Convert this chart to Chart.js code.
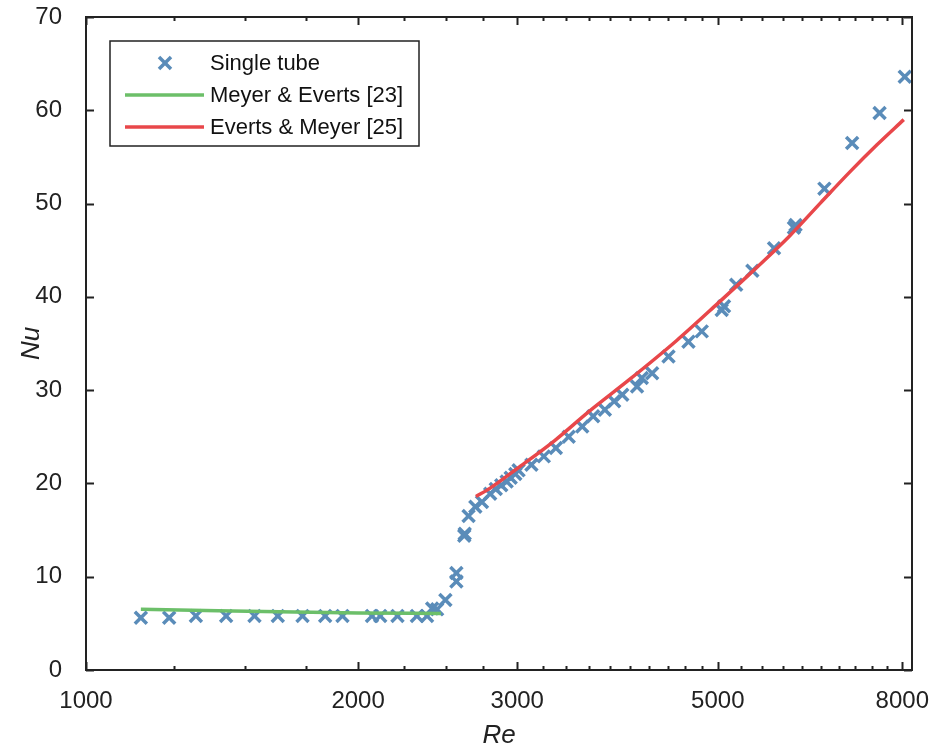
<!DOCTYPE html>
<html>
<head>
<meta charset="utf-8">
<title>Nu vs Re</title>
<script src="https://cdn.jsdelivr.net/npm/chart.js@4.4.1/dist/chart.umd.min.js"></script>
<style>
  html, body { margin: 0; padding: 0; background: #ffffff; }
  #wrap { width: 931px; height: 751px; position: relative; }
</style>
</head>
<body>
<div id="wrap"><canvas id="nuChart" width="931" height="751"></canvas></div>
<script>
// measured points, single tube
const reSingle = [1150, 1236, 1323, 1429, 1536, 1630, 1736, 1839, 1922, 2072, 2116, 2211, 2323, 2384, 2415, 2446,
  2498, 2569, 2569, 2621, 2624, 2650, 2696, 2742, 2800, 2840, 2880, 2920, 2950, 2985, 3010,
  3110, 3210, 3310, 3420, 3540, 3640, 3750, 3840, 3920, 4070, 4120, 4230, 4410, 4640, 4800,
  5050, 5080, 5240, 5460, 5770, 6070, 6095, 6560, 7040, 7550, 8050];
const nuSingle = [5.6, 5.6, 5.8, 5.8, 5.8, 5.8, 5.8, 5.8, 5.8, 5.8, 5.8, 5.8, 5.8, 5.8, 6.6, 6.5,
  7.5, 9.5, 10.4, 14.4, 14.6, 16.5, 17.5, 18.0, 18.9, 19.4, 19.8, 20.2, 20.6, 21.0, 21.4,
  22.0, 22.9, 23.8, 25.0, 26.1, 27.2, 27.9, 28.8, 29.5, 30.4, 31.3, 31.8, 33.6, 35.2, 36.3,
  38.6, 39.0, 41.3, 42.8, 45.2, 47.4, 47.7, 51.6, 56.5, 59.7, 63.6];

// correlation curves
const reMeyerEverts = [1150, 1400, 1700, 2000, 2470];
const nuMeyerEverts = [6.5, 6.35, 6.22, 6.12, 6.07];

const reEvertsMeyer = [2700, 2800, 3000, 3300, 3600, 4000, 4500, 5000, 5500, 6000, 6500, 7000, 7500, 8030];
const nuEvertsMeyer = [18.6, 19.5, 21.6, 24.6, 27.7, 31.2, 35.3, 39.3, 43.0, 46.5, 50.1, 53.4, 56.3, 59.0];

// axis ticks
const reMajorTicks = [1000, 2000, 3000, 5000, 8000];
const reMinorTicks = [1250, 1500, 1750, 2250, 2500, 2750,
  3200, 3400, 3600, 3800, 4000, 4200, 4400, 4600, 4800,
  5300, 5600, 5900, 6200, 6500, 6800, 7100, 7400, 7700];
const nuTicks = [0, 10, 20, 30, 40, 50, 60, 70];

const seriesLabels = ['Single tube', 'Meyer & Everts [23]', 'Everts & Meyer [25]'];

const BLUE = '#5a8cb9';
const GREEN = '#6cbf69';
const RED = '#e8474a';
const INK = '#222222';
const FONT = "'Liberation Sans', Arial, Helvetica, sans-serif";
const MARK_R = 8.5;

function toPoints(xs, ys) {
  return xs.map((x, i) => ({ x: x, y: ys[i] }));
}

// box around the plot + inward ticks on all four sides + legend inside
const framePlugin = {
  id: 'frame',
  afterDraw(chart) {
    const { ctx, chartArea: a, scales } = chart;
    const xs = scales.x, ys = scales.y;
    ctx.save();
    ctx.strokeStyle = INK;
    ctx.lineWidth = 2;
    ctx.strokeRect(a.left, a.top, a.right - a.left, a.bottom - a.top);

    ctx.beginPath();
    reMajorTicks.forEach(v => {
      const px = Math.round(xs.getPixelForValue(v)) + 0.5;
      ctx.moveTo(px, a.bottom); ctx.lineTo(px, a.bottom - 8);
      ctx.moveTo(px, a.top); ctx.lineTo(px, a.top + 8);
    });
    reMinorTicks.forEach(v => {
      const px = Math.round(xs.getPixelForValue(v)) + 0.5;
      ctx.moveTo(px, a.bottom); ctx.lineTo(px, a.bottom - 4);
      ctx.moveTo(px, a.top); ctx.lineTo(px, a.top + 4);
    });
    nuTicks.forEach(v => {
      const py = Math.round(ys.getPixelForValue(v)) + 0.5;
      ctx.moveTo(a.left, py); ctx.lineTo(a.left + 8, py);
      ctx.moveTo(a.right, py); ctx.lineTo(a.right - 8, py);
    });
    ctx.stroke();

    // legend
    const bx = 110, by = 41, bw = 309, bh = 105;
    ctx.fillStyle = '#ffffff';
    ctx.fillRect(bx, by, bw, bh);
    ctx.lineWidth = 1.5;
    ctx.strokeRect(bx, by, bw, bh);

    const rows = [63, 95, 127];
    ctx.font = '22px ' + FONT;
    ctx.textBaseline = 'middle';
    ctx.textAlign = 'left';
    chart.data.datasets.forEach((ds, i) => {
      const y = rows[i];
      if (i === 0) {
        const r = MARK_R * Math.SQRT1_2;
        ctx.strokeStyle = BLUE;
        ctx.lineWidth = 3.5;
        ctx.beginPath();
        ctx.moveTo(165 - r, y - r); ctx.lineTo(165 + r, y + r);
        ctx.moveTo(165 - r, y + r); ctx.lineTo(165 + r, y - r);
        ctx.stroke();
      } else {
        ctx.strokeStyle = ds.borderColor;
        ctx.lineWidth = 3.5;
        ctx.beginPath();
        ctx.moveTo(125, y); ctx.lineTo(204, y);
        ctx.stroke();
      }
      ctx.fillStyle = '#111111';
      ctx.fillText(ds.label, 210, y + 1);
    });
    ctx.restore();
  }
};

new Chart(document.getElementById('nuChart'), {
  type: 'scatter',
  data: {
    datasets: [
      {
        label: seriesLabels[0],
        data: toPoints(reSingle, nuSingle),
        pointStyle: 'crossRot',
        pointRadius: MARK_R,
        pointBorderWidth: 3.5,
        borderColor: BLUE,
        backgroundColor: BLUE,
        order: 1
      },
      {
        label: seriesLabels[1],
        data: toPoints(reMeyerEverts, nuMeyerEverts),
        showLine: true,
        borderColor: GREEN,
        borderWidth: 3.5,
        pointRadius: 0,
        cubicInterpolationMode: 'monotone',
        order: 0
      },
      {
        label: seriesLabels[2],
        data: toPoints(reEvertsMeyer, nuEvertsMeyer),
        showLine: true,
        borderColor: RED,
        borderWidth: 3.5,
        pointRadius: 0,
        cubicInterpolationMode: 'monotone',
        order: 0
      }
    ]
  },
  options: {
    responsive: false,
    animation: false,
    layout: { padding: { top: 17, right: 19, left: 0, bottom: 0 } },
    plugins: {
      legend: { display: false },
      tooltip: { enabled: false }
    },
    scales: {
      x: {
        type: 'logarithmic',
        min: 1000,
        max: 8200,
        afterBuildTicks: (scale) => { scale.ticks = reMajorTicks.map(v => ({ value: v })); },
        afterFit: (scale) => {
          scale.height = 81;
          scale.paddingLeft = 0;
          scale.paddingRight = 0;
        },
        grid: { display: false, drawTicks: false },
        border: { display: false },
        ticks: {
          color: INK,
          font: { family: FONT, size: 24 },
          padding: 17,
          maxRotation: 0,
          autoSkip: false,
          callback: (v) => String(v)
        },
        title: {
          display: true,
          text: 'Re',
          color: INK,
          font: { family: FONT, size: 26, style: 'italic' },
          padding: { top: 0, bottom: 0 }
        }
      },
      y: {
        min: 0,
        max: 70,
        afterBuildTicks: (scale) => { scale.ticks = nuTicks.map(v => ({ value: v })); },
        afterFit: (scale) => {
          scale.width = 86;
          scale.paddingTop = 0;
          scale.paddingBottom = 0;
        },
        grid: { display: false, drawTicks: false },
        border: { display: false },
        ticks: {
          color: INK,
          font: { family: FONT, size: 24 },
          padding: 24,
          callback: (v) => String(v)
        },
        title: {
          display: true,
          text: 'Nu',
          color: INK,
          font: { family: FONT, size: 26, style: 'italic' },
          padding: { top: 16, bottom: 0 }
        }
      }
    }
  },
  plugins: [framePlugin]
});
</script>
</body>
</html>
